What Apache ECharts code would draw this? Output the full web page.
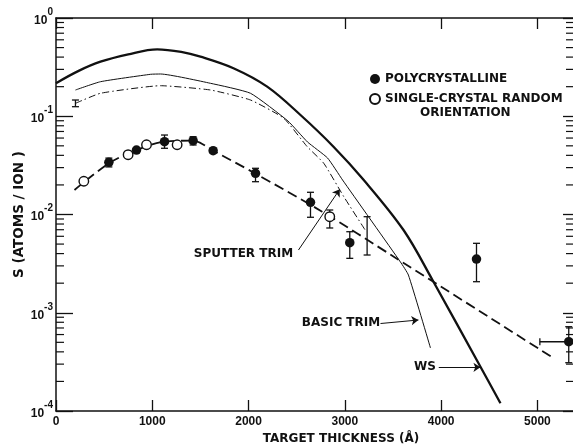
<!DOCTYPE html>
<html><head><meta charset="utf-8">
<script src="https://cdn.jsdelivr.net/npm/echarts@6/dist/echarts.min.js"></script>
<style>html,body{margin:0;padding:0;background:#fff}#c{width:573px;height:446px}</style>
</head><body><div id="c"></div>
<script>
// ---------- data ----------
const wsX = [0, 230, 462, 750, 1051, 1300, 1500, 1843, 2193, 2539, 2882, 3196, 3609, 3910, 4408, 4616];
const wsY = [0.217, 0.288, 0.359, 0.427, 0.480, 0.452, 0.404, 0.308, 0.200, 0.103, 0.049, 0.02245, 0.00695, 0.002154, 0.000282, 0.00012];

const basicX = [202, 462, 982, 1085, 1604, 2020, 2409, 2612, 2820, 2976, 3577, 3660, 3889];
const basicY = [0.185, 0.2247, 0.2673, 0.2692, 0.2165, 0.1713, 0.0894, 0.0547, 0.0376, 0.02245, 0.003285, 0.00242, 0.000438];

const sputterX = [202, 462, 1085, 1604, 2020, 2366, 2609, 2781, 2989, 3224];
const sputterY = [0.1354, 0.1713, 0.2046, 0.185, 0.1463, 0.0953, 0.049, 0.0332, 0.01518, 0.00664];

const fitX = [192, 549, 836, 1127, 1425, 1632, 2065, 2764, 3508, 5153];
const fitY = [0.01776, 0.0332, 0.0453, 0.0551, 0.0564, 0.0446, 0.02626, 0.01068, 0.00372, 0.000352];

const polyX  = [549, 836, 1127, 1424, 1632, 2072, 2643, 3051, 4367, 5325];
const polyY  = [0.034, 0.0453, 0.0551, 0.0564, 0.0446, 0.02626, 0.0133, 0.00516, 0.00352, 0.000507];
const polyLo = [0.0305, null, 0.0472, 0.051, 0.0425, 0.02157, 0.00937, 0.00358, 0.00207, 0.00031];
const polyHi = [0.0375, null, 0.0644, 0.0619, 0.047, 0.02953, 0.01683, 0.00668, 0.00509, 0.000721];
const polyXErrIndex = 9;
const polyXErr = [5025, 5625];

const singleX  = [289, 749, 940, 1258, 2843];
const singleY  = [0.0218, 0.0406, 0.0513, 0.0513, 0.0095];
const singleLo = [null, null, null, null, 0.00729];
const singleHi = [null, null, null, null, 0.01111];

const trimErrX  = [202, 3231];
const trimErrLo = [0.1251, 0.00387];
const trimErrHi = [0.1463, 0.0095];

const annotText = ['SPUTTER TRIM', 'BASIC TRIM', 'WS'];
const annotX = [1947, 2960, 3832];
const annotY = [0.00401, 0.000781, 0.000278];
const arrowX0 = [2518, 3370, 3975];
const arrowY0 = [0.00435, 0.000777, 0.000278];
const arrowX1 = [2947, 3764, 4408];
const arrowY1 = [0.01805, 0.000844, 0.000278];

const yDecades = [1e-4, 1e-3, 1e-2, 1e-1];
const minorMultipliers = [2, 3, 4, 5, 6, 7, 8, 9];

const legendNames = ['POLYCRYSTALLINE', 'SINGLE-CRYSTAL RANDOM'];
const legendExtra = 'ORIENTATION';
const xTitle = 'TARGET THICKNESS (Å)';
const yTitle = 'S (ATOMS / ION )';

// ---------- chart ----------
const INK = '#111';
const FONT = '"DejaVu Sans", sans-serif';
const NUMFONT = '"Liberation Sans", Arial, sans-serif';
const X_MAX = 5390;

const zip = (a, b) => a.map((v, i) => [v, b[i]]);
const minorVals = [];
yDecades.forEach(d => minorMultipliers.forEach(m => minorVals.push([0, d * m])));

const errData = [];
polyX.forEach((x, i) => { if (polyLo[i] != null) errData.push([x, polyLo[i], polyHi[i]]); });
singleX.forEach((x, i) => { if (singleLo[i] != null) errData.push([x, singleLo[i], singleHi[i]]); });
trimErrX.forEach((x, i) => errData.push([x, trimErrLo[i], trimErrHi[i]]));

const chart = echarts.init(document.getElementById('c'), null, {renderer: 'canvas'});
const axisLine = {show: true, onZero: false, lineStyle: {color: INK, width: 1.5}};

chart.setOption({
  animation: false,
  backgroundColor: '#fff',
  grid: {left: 56, right: -2, top: 18, bottom: 35, containLabel: false, outerBoundsMode: 'none'},
  legend: {
    data: legendNames, orient: 'vertical', left: 364, top: 68,
    itemWidth: 10, itemHeight: 10, itemGap: 8,
    textStyle: {fontFamily: FONT, fontWeight: 'bold', fontSize: 12, color: INK}
  },
  graphic: [{
    type: 'text', left: 420, top: 107,
    style: {text: legendExtra, font: 'bold 12px ' + FONT, fill: INK}
  }],
  xAxis: [{
    type: 'value', min: 0, max: X_MAX, interval: 1000, position: 'bottom',
    axisLine, axisTick: {inside: true, length: 11, lineStyle: {color: INK, width: 1.3}},
    axisLabel: {margin: 5, fontFamily: NUMFONT, fontWeight: 'bold', fontSize: 12, color: INK,
      showMaxLabel: false, formatter: v => (v % 1000 === 0 ? String(v) : '')},
    splitLine: {show: false},
    name: xTitle, nameLocation: 'middle', nameGap: 22, nameMoveOverlap: false,
    nameTextStyle: {fontFamily: FONT, fontWeight: 'bold', fontSize: 12, color: INK, padding: [0, 0, 0, 51]}
  }, {
    type: 'value', min: 0, max: X_MAX, interval: 1000, position: 'top',
    axisLine, axisTick: {inside: true, length: 11, lineStyle: {color: INK, width: 1.3}},
    axisLabel: {show: false}, splitLine: {show: false}
  }],
  yAxis: [{
    type: 'log', logBase: 10, min: 1e-4, max: 1, position: 'left',
    axisLine, axisTick: {inside: true, length: 17, lineStyle: {color: INK, width: 1.3}},
    axisLabel: {
      margin: 3,
      formatter: v => {
        const e = Math.round(Math.log10(v));
        return '{b|10}{e|' + (e === 0 ? '0' : '-' + Math.abs(e)) + '}';
      },
      rich: {
        b: {fontFamily: NUMFONT, fontWeight: 'bold', fontSize: 12, color: INK, padding: [5, 0, 0, 0]},
        e: {fontFamily: NUMFONT, fontWeight: 'bold', fontSize: 10, color: INK, padding: [0, 0, 12, 0]}
      }
    },
    splitLine: {show: false},
    name: yTitle, nameLocation: 'middle', nameRotate: 90, nameGap: 30, nameMoveOverlap: false,
    nameTextStyle: {fontFamily: FONT, fontWeight: 'bold', fontSize: 13.5, color: INK}
  }, {
    type: 'log', logBase: 10, min: 1e-4, max: 1, position: 'right',
    axisLine, axisTick: {inside: true, length: 12, lineStyle: {color: INK, width: 1.3}},
    axisLabel: {show: false}, splitLine: {show: false}
  }],
  series: [
    { // minor log ticks on left and right
      type: 'custom', silent: true, z: 1, data: minorVals, encode: {x: 0, y: 1},
      renderItem: (params, api) => {
        const pL = api.coord([0, api.value(1)]);
        const pR = api.coord([X_MAX, api.value(1)]);
        const st = {stroke: INK, lineWidth: 1.2};
        return {type: 'group', children: [
          {type: 'line', shape: {x1: pL[0], y1: pL[1], x2: pL[0] + 8, y2: pL[1]}, style: st},
          {type: 'line', shape: {x1: pR[0], y1: pR[1], x2: pR[0] - 9, y2: pR[1]}, style: st}
        ]};
      }
    },
    {
      name: 'WS', type: 'line', data: zip(wsX, wsY), smooth: 0.35, showSymbol: false,
      lineStyle: {color: INK, width: 2.3}, z: 3
    },
    {
      name: 'BASIC TRIM', type: 'line', data: zip(basicX, basicY), smooth: 0.15, showSymbol: false,
      lineStyle: {color: INK, width: 1}, z: 3
    },
    {
      name: 'SPUTTER TRIM', type: 'line', data: zip(sputterX, sputterY), smooth: 0.15, showSymbol: false,
      lineStyle: {color: INK, width: 1, type: [7, 3, 1.5, 3]}, z: 3
    },
    {
      name: 'fit', type: 'line', data: zip(fitX, fitY), smooth: 0.3, showSymbol: false,
      lineStyle: {color: INK, width: 1.8, type: [10, 5]}, z: 3
    },
    { // vertical error bars
      type: 'custom', silent: true, z: 4, data: errData, encode: {x: 0, y: [1, 2]},
      renderItem: (params, api) => {
        const x = api.value(0);
        const p1 = api.coord([x, api.value(2)]);
        const p2 = api.coord([x, api.value(1)]);
        const cw = 3.5, st = {stroke: INK, lineWidth: 1.3};
        return {type: 'group', children: [
          {type: 'line', shape: {x1: p1[0], y1: p1[1], x2: p2[0], y2: p2[1]}, style: st},
          {type: 'line', shape: {x1: p1[0] - cw, y1: p1[1], x2: p1[0] + cw, y2: p1[1]}, style: st},
          {type: 'line', shape: {x1: p2[0] - cw, y1: p2[1], x2: p2[0] + cw, y2: p2[1]}, style: st}
        ]};
      }
    },
    { // horizontal error bar
      type: 'custom', silent: true, z: 4,
      data: [[polyXErr[0], polyXErr[1], polyY[polyXErrIndex]]], encode: {x: [0, 1], y: 2},
      renderItem: (params, api) => {
        const p1 = api.coord([api.value(0), api.value(2)]);
        const p2 = api.coord([api.value(1), api.value(2)]);
        const cw = 3.5, st = {stroke: INK, lineWidth: 1.3};
        return {type: 'group', children: [
          {type: 'line', shape: {x1: p1[0], y1: p1[1], x2: p2[0], y2: p2[1]}, style: st},
          {type: 'line', shape: {x1: p1[0], y1: p1[1] - cw, x2: p1[0], y2: p1[1] + cw}, style: st}
        ]};
      }
    },
    {
      name: legendNames[0], type: 'scatter', data: zip(polyX, polyY), symbol: 'circle', symbolSize: 9.5,
      itemStyle: {color: INK, opacity: 1}, z: 5
    },
    {
      name: legendNames[1], type: 'scatter', data: zip(singleX, singleY), symbol: 'circle', symbolSize: 9.5,
      itemStyle: {color: '#fff', borderColor: INK, borderWidth: 1.4, opacity: 1}, z: 5
    },
    { // annotations
      name: 'annot', type: 'scatter', symbolSize: 1, silent: true, z: 6,
      data: annotX.map((x, i) => [x, annotY[i]]),
      itemStyle: {color: 'rgba(0,0,0,0)', opacity: 1},
      label: {show: true, position: 'inside', formatter: p => annotText[p.dataIndex],
        fontFamily: FONT, fontWeight: 'bold', fontSize: 12, color: INK, opacity: 1},
      markLine: {
        silent: true, symbol: ['none', 'arrow'], symbolSize: 7, animation: false,
        label: {show: false}, lineStyle: {color: INK, width: 1, type: 'solid', opacity: 1},
        emphasis: {disabled: true},
        data: arrowX0.map((x, i) => [{coord: [x, arrowY0[i]]}, {coord: [arrowX1[i], arrowY1[i]]}])
      }
    }
  ]
});
</script></body></html>
